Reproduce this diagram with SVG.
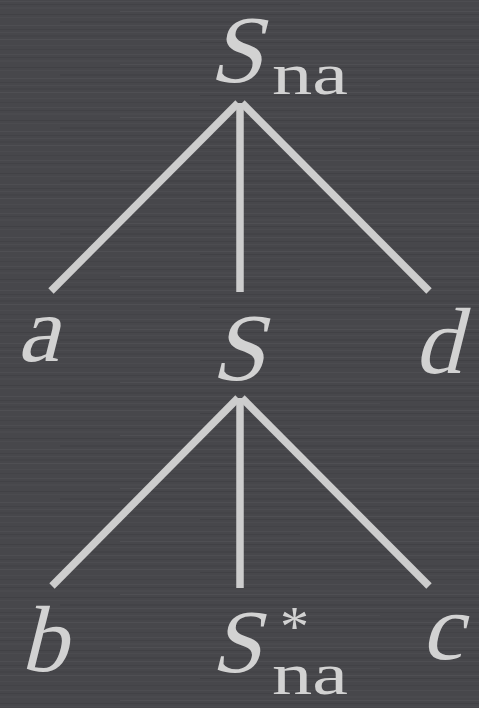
<svg xmlns="http://www.w3.org/2000/svg" width="479" height="708" viewBox="0 0 479 708">
<style>
.edge{stroke:#cdcdcd;stroke-width:7.5;stroke-linecap:butt;fill:none}
.lbl{font-family:"Liberation Serif","Times New Roman",serif;font-style:normal;fill:#d2d2d2}
.sub{font-family:"Liberation Serif","Times New Roman",serif;font-style:normal;fill:#d2d2d2}
</style>
<defs>
<pattern id="streaks" width="479" height="53" patternUnits="userSpaceOnUse">
<rect width="479" height="53" fill="#47474b"/>
<rect y="1" width="479" height="1" fill="#4d4d51"/>
<rect x="0" y="4" width="300" height="1" fill="#424246"/>
<rect y="7" width="479" height="2" fill="#4a4a4e"/>
<rect x="120" y="11" width="359" height="1" fill="#4f4f53"/>
<rect y="14" width="479" height="1" fill="#414145"/>
<rect y="17" width="479" height="1" fill="#4b4b4f"/>
<rect x="60" y="21" width="419" height="2" fill="#434347"/>
<rect y="25" width="479" height="1" fill="#4e4e52"/>
<rect y="29" width="479" height="1" fill="#424246"/>
<rect x="0" y="32" width="380" height="1" fill="#4c4c50"/>
<rect y="35" width="479" height="2" fill="#444448"/>
<rect y="39" width="479" height="1" fill="#4f4f53"/>
<rect x="200" y="42" width="279" height="1" fill="#414145"/>
<rect y="45" width="479" height="1" fill="#4b4b4f"/>
<rect y="49" width="479" height="1" fill="#434347"/>
</pattern>
</defs>
<rect width="479" height="708" fill="url(#streaks)"/>
<g id="connectors">
<line class="edge" x1="238" y1="103" x2="51" y2="291"/>
<line class="edge" x1="240" y1="103" x2="240" y2="292"/>
<line class="edge" x1="242" y1="103" x2="429" y2="291"/>
<line class="edge" x1="238" y1="398" x2="52" y2="586"/>
<line class="edge" x1="240" y1="398" x2="240" y2="588"/>
<line class="edge" x1="242" y1="398" x2="429" y2="586"/>
</g>
<g id="node-Sna">
<text class="lbl" transform="translate(209,82) skewX(-14)" font-size="96">S</text>
<text class="sub" x="272" y="94" font-size="60" textLength="76" lengthAdjust="spacingAndGlyphs">na</text>
</g>
<g id="node-a">
<text class="lbl" transform="translate(17,361) skewX(-14)" font-size="94">a</text>
</g>
<g id="node-S">
<text class="lbl" transform="translate(211,380) skewX(-14)" font-size="96">S</text>
</g>
<g id="node-d">
<text class="lbl" transform="translate(414,373) skewX(-14)" font-size="94">d</text>
</g>
<g id="node-b">
<text class="lbl" transform="translate(20,671) skewX(-14)" font-size="94">b</text>
</g>
<g id="node-Sstar">
<text class="lbl" transform="translate(211,672) skewX(-14)" font-size="90">S</text>
<text class="sub" x="280" y="646" font-size="58">*</text>
<text class="sub" x="272" y="694" font-size="60" textLength="76" lengthAdjust="spacingAndGlyphs">na</text>
</g>
<g id="node-c">
<text class="lbl" transform="translate(421,659) skewX(-14)" font-size="94">c</text>
</g>
</svg>
